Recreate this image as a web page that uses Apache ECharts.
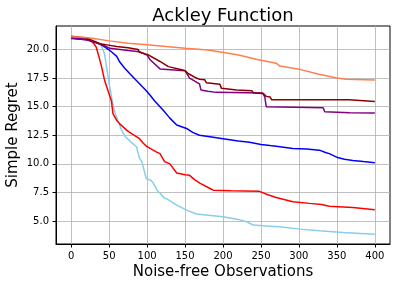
<!DOCTYPE html>
<html>
<head>
<meta charset="utf-8">
<script src="https://cdn.jsdelivr.net/npm/echarts@6/dist/echarts.min.js"></script>
<style>
html,body{margin:0;padding:0;background:#fff;}
#c{width:397px;height:287px;}
</style>
</head>
<body>
<div id="c"></div>
<script>
// ---- data (x = observations, y = simple regret) ----
var xTicks = [0, 50, 100, 150, 200, 250, 300, 350, 400];
var yTicks = [5.0, 7.5, 10.0, 12.5, 15.0, 17.5, 20.0];

var skyblueData = [[0,21.05],[20,20.9],[35,20.6],[40,20.3],[44,19.6],[47,18.3],[50,17.0],[53,15.9],[55,15.2],[58,14.4],[62,13.7],[66,13.0],[71,12.4],[79,11.9],[86,11.5],[90,10.5],[93,10.2],[99,8.7],[104,8.6],[108,8.35],[114,7.6],[117,7.45],[123,7.0],[126,6.95],[139,6.4],[152,5.96],[165,5.62],[200,5.38],[220,5.15],[231,4.94],[240,4.65],[261,4.56],[275,4.5],[301,4.3],[327,4.15],[358,4.0],[400,3.86]];
var redData = [[0,21.0],[20,20.9],[25,20.8],[30,20.5],[33,20.2],[36,19.5],[40,18.5],[44,17.3],[48,16.5],[51,15.9],[53,15.5],[55,14.4],[60,13.8],[64,13.5],[73,12.95],[77,12.75],[90,12.2],[95,11.8],[99,11.55],[104,11.35],[112,11.05],[117,10.9],[123,10.2],[130,10.0],[139,9.2],[150,9.05],[156,9.0],[163,8.6],[170,8.3],[183,7.85],[187,7.7],[210,7.65],[248,7.6],[259,7.3],[270,7.07],[292,6.7],[314,6.55],[330,6.45],[340,6.3],[371,6.2],[400,6.0]];
var blueData = [[0,21.0],[20,20.85],[29,20.7],[40,20.4],[47,20.1],[53,19.8],[60,19.4],[64,18.9],[70,18.4],[77,17.9],[90,17.0],[99,16.4],[104,16.0],[110,15.5],[117,15.0],[121,14.7],[130,14.0],[139,13.4],[152,13.1],[160,12.75],[169,12.5],[185,12.35],[200,12.2],[220,12.0],[235,11.9],[250,11.7],[262,11.6],[275,11.5],[292,11.35],[310,11.3],[327,11.2],[335,11.0],[340,10.9],[351,10.55],[360,10.4],[371,10.3],[385,10.2],[400,10.1]];
var purpleData = [[0,20.95],[20,20.85],[42,20.4],[51,20.1],[75,19.9],[90,19.8],[100,19.5],[104,19.1],[117,18.3],[150,18.15],[152,18.15],[156,17.5],[169,17.0],[171,16.45],[180,16.35],[191,16.25],[252,16.2],[255,15.85],[257,15.0],[332,14.9],[334,14.55],[367,14.47],[400,14.45]];
var darkredData = [[0,21.15],[20,21.0],[38,20.5],[47,20.4],[60,20.25],[75,20.15],[88,20.0],[90,19.75],[101,19.55],[117,18.95],[119,18.9],[128,18.5],[130,18.4],[147,18.2],[150,18.15],[154,17.9],[165,17.5],[169,17.4],[176,17.35],[178,17.1],[196,16.95],[198,16.6],[218,16.45],[238,16.4],[240,16.2],[253,16.15],[257,15.9],[262,15.85],[264,15.6],[366,15.6],[368,15.45],[400,15.45]];
var coralData = [[0,21.1],[20,21.05],[30,20.95],[50,20.75],[75,20.55],[100,20.42],[125,20.25],[150,20.1],[180,19.95],[205,19.7],[222,19.5],[245,19.13],[262,18.9],[270,18.8],[275,18.55],[300,18.28],[325,17.85],[350,17.5],[362,17.4],[400,17.33]];

var seriesDefs = [
  {name:'skyblue', data: skyblueData, color:'#87ceeb'},
  {name:'red', data: redData, color:'#ff0000'},
  {name:'blue', data: blueData, color:'#0000ff'},
  {name:'purple', data: purpleData, color:'#800080'},
  {name:'darkred', data: darkredData, color:'#8b0000'},
  {name:'coral', data: coralData, color:'#ff7f50'}
];

var FONT = 'DejaVu Sans';
var chart = echarts.init(document.getElementById('c'), null, {renderer:'canvas'});
chart.setOption({
  backgroundColor:'#ffffff',
  animation:false,
  title:{
    text:'Ackley Function',
    left:218, top:2, textAlign:'center',
    textStyle:{fontFamily:FONT, fontSize:18, fontWeight:'normal', color:'#000'}
  },
  grid:{left:56, right:7, top:26, bottom:43, show:true, borderColor:'#000', borderWidth:1,
    containLabel:false, outerBoundsMode:'none'},
  xAxis:{
    type:'value', min:-20, max:420,
    name:'Noise-free Observations', nameLocation:'middle', nameGap:21, nameMoveOverlap:false,
    nameTextStyle:{fontFamily:FONT, fontSize:15, color:'#000'},
    axisLine:{show:true, onZero:false, lineStyle:{color:'#000', width:1}},
    axisTick:{show:true, inside:false, length:3.5, customValues:xTicks, lineStyle:{color:'#000'}},
    axisLabel:{customValues:xTicks, margin:7, fontFamily:FONT, fontSize:10, color:'#000', showMinLabel:true, showMaxLabel:true},
    splitLine:{show:true, lineStyle:{color:'#b0b0b0', width:0.8}}
  },
  yAxis:{
    type:'value', min:3.0, max:22.05,
    name:'Simple Regret', nameLocation:'middle', nameGap:35, nameMoveOverlap:false,
    nameTextStyle:{fontFamily:FONT, fontSize:15, color:'#000'},
    axisLine:{show:true, onZero:false, lineStyle:{color:'#000', width:1}},
    axisTick:{show:true, inside:false, length:3.5, customValues:yTicks, lineStyle:{color:'#000'}},
    axisLabel:{customValues:yTicks, margin:7, fontFamily:FONT, fontSize:10, color:'#000',
      formatter:function(v){return Number(v).toFixed(1);}},
    splitLine:{show:true, lineStyle:{color:'#b0b0b0', width:0.8}}
  },
  series: seriesDefs.map(function(s){
    return {
      name:s.name, type:'line', data:s.data, showSymbol:false, symbol:'none',
      lineStyle:{color:s.color, width:1.5}, itemStyle:{color:s.color}
    };
  })
});
</script>
</body>
</html>
